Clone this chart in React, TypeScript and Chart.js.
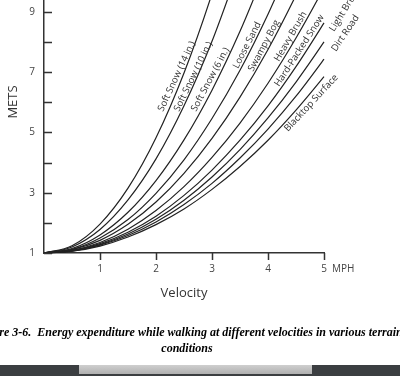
import React, { useEffect, useRef } from "react";
import { Chart, registerables } from "chart.js";

Chart.register(...registerables);

// Velocity (MPH) sample points
const velocity = [0, 0.5, 1, 1.5, 2, 2.5, 3, 3.5, 4, 4.5, 5, 5.12];

// METS per terrain (values above the top are clipped)
const softSnow14in = [1, 1.24, 1.96, 3.15, 4.82, 6.97, 9.6, 12.7];
const softSnow10in = [1, 1.2, 1.78, 2.76, 4.12, 5.88, 8.02, 10.56];
const softSnow6in = [1, 1.15, 1.6, 2.35, 3.4, 4.75, 6.4, 8.35, 10.6];
const looseSand = [1, 1.12, 1.5, 2.11, 2.98, 4.09, 5.46, 7.06, 8.92, 11.02];
const swampyBog = [1, 1.11, 1.42, 1.95, 2.69, 3.64, 4.8, 6.17, 7.75, 9.55, 11.55];
const heavyBrush = [1, 1.09, 1.35, 1.79, 2.41, 3.2, 4.17, 5.31, 6.63, 8.13, 9.8, 10.23];
const hardPackedSnow = [1, 1.08, 1.31, 1.69, 2.22, 2.91, 3.75, 4.74, 5.88, 7.18, 8.63, 8.99];
const lightBrush = [1, 1.07, 1.28, 1.63, 2.12, 2.75, 3.52, 4.43, 5.48, 6.67, 8.0, 8.34];
const dirtRoad = [1, 1.06, 1.26, 1.58, 2.03, 2.61, 3.31, 4.15, 5.11, 6.2, 7.43, 7.74];
const blacktopSurface = [1, 1.06, 1.23, 1.53, 1.94, 2.46, 3.11, 3.87, 4.74, 5.74, 6.85, 7.13];

const seriesNames = [
  "Soft Snow (14 in.)",
  "Soft Snow (10 in.)",
  "Soft Snow (6 in.)",
  "Loose Sand",
  "Swampy Bog",
  "Heavy Brush",
  "Hard-Packed Snow",
  "Light Brush",
  "Dirt Road",
  "Blacktop Surface",
];
const seriesValues = [
  softSnow14in,
  softSnow10in,
  softSnow6in,
  looseSand,
  swampyBog,
  heavyBrush,
  hardPackedSnow,
  lightBrush,
  dirtRoad,
  blacktopSurface,
];

const xTickValues = [1, 2, 3, 4, 5];
const yTickValues = [1, 2, 3, 4, 5, 6, 7, 8, 9];
const yLabelledTicks = [1, 3, 5, 7, 9];

const xTitle = "Velocity";
const yTitle = "METS";
const xUnit = "MPH";
const captionLine1 =
  "Figure 3-6.  Energy expenditure while walking at different velocities in various terrain";
const captionLine2 = "conditions";

// label placement (baseline start in px, angle in degrees)
const labelPlacement = [
  { x: 163, y: 112, a: 65 },
  { x: 179, y: 112, a: 64 },
  { x: 196, y: 112, a: 62 },
  { x: 238, y: 69, a: 63 },
  { x: 253, y: 72, a: 62 },
  { x: 279, y: 62, a: 60 },
  { x: 279, y: 87, a: 57 },
  { x: 334, y: 32, a: 58 },
  { x: 336, y: 52, a: 56 },
  { x: 288, y: 132, a: 47 },
];

const SANS = "'Open Sans', 'Noto Sans', sans-serif";

const decorPlugin = {
  id: "decor",
  afterDraw(chart: any) {
    const ctx = chart.ctx as CanvasRenderingContext2D;
    const xs = chart.scales.x;
    const ys = chart.scales.y;
    const area = chart.chartArea;
    ctx.save();
    // tick marks
    ctx.strokeStyle = "#333";
    ctx.lineWidth = 1.5;
    ctx.beginPath();
    for (const v of xTickValues) {
      const px = Math.round(xs.getPixelForValue(v)) + 0.5;
      ctx.moveTo(px, area.bottom);
      ctx.lineTo(px, area.bottom + 7);
    }
    for (const v of yTickValues) {
      const py = Math.round(ys.getPixelForValue(v)) + 0.5;
      ctx.moveTo(area.left, py);
      ctx.lineTo(area.left + 8, py);
    }
    ctx.stroke();

    // MPH unit
    ctx.fillStyle = "#444";
    ctx.font = `10px ${SANS}`;
    ctx.textBaseline = "middle";
    ctx.textAlign = "left";
    ctx.fillText(xUnit, xs.getPixelForValue(5) + 8, area.bottom + 16);

    // y title
    ctx.save();
    ctx.fillStyle = "#333";
    ctx.font = `13px ${SANS}`;
    ctx.translate(13, 102);
    ctx.rotate(-Math.PI / 2);
    ctx.textAlign = "center";
    ctx.textBaseline = "middle";
    ctx.fillText(yTitle, 0, 0);
    ctx.restore();

    // curve labels
    ctx.fillStyle = "#333";
    ctx.font = `9.5px ${SANS}`;
    ctx.textAlign = "left";
    ctx.textBaseline = "alphabetic";
    seriesNames.forEach((name, i) => {
      const p = labelPlacement[i];
      ctx.save();
      ctx.translate(p.x, p.y);
      ctx.rotate((-p.a * Math.PI) / 180);
      ctx.fillText(name, 0, 0);
      ctx.restore();
    });

    // caption
    ctx.fillStyle = "#000";
    ctx.font = `italic bold 12px 'Liberation Serif', 'Times New Roman', serif`;
    ctx.textAlign = "center";
    ctx.textBaseline = "middle";
    ctx.fillText(captionLine1, 189, 333);
    ctx.fillText(captionLine2, 187, 349);

    // bottom bar
    ctx.fillStyle = "#3b3e41";
    ctx.fillRect(0, 365, 400, 11);
    const g = ctx.createLinearGradient(0, 365, 0, 376);
    g.addColorStop(0, "#cfcfcf");
    g.addColorStop(1, "#a9a9a9");
    ctx.fillStyle = g;
    ctx.fillRect(79, 365, 233, 9);
    ctx.restore();
  },
};

export default function App() {
  const ref = useRef<HTMLCanvasElement>(null);
  useEffect(() => {
    document.body.style.margin = "0";
    const canvas = ref.current!;
    const datasets = seriesNames.map((name, i) => ({
      label: name,
      data: seriesValues[i].map((y, j) => ({ x: velocity[j], y })),
      borderColor: "#222",
      borderWidth: 1.2,
      pointRadius: 0,
      fill: false,
      cubicInterpolationMode: "monotone" as const,
      clip: false as any,
    }));
    const chart = new Chart(canvas, {
      type: "line",
      data: { datasets },
      plugins: [decorPlugin],
      options: {
        animation: false,
        responsive: false,
        events: [],
        layout: { padding: { left: 0, right: 76, top: 0, bottom: 0 } },
        plugins: { legend: { display: false }, tooltip: { enabled: false } },
        scales: {
          x: {
            type: "linear",
            min: 0,
            max: 5,
            grid: { display: false, drawTicks: false },
            border: { display: true, color: "#333", width: 1.5 },
            ticks: {
              stepSize: 1,
              padding: 10,
              color: "#444",
              font: { size: 10, family: SANS },
              maxRotation: 0,
              autoSkip: false,
              callback: (v: any) => (xTickValues.includes(Number(v)) ? String(v) : null),
            },
            title: {
              display: true,
              text: xTitle,
              color: "#333",
              font: { size: 13, family: SANS },
              padding: { top: 0, bottom: 75 },
            },
            afterFit: (s: any) => {
              s.height = 123;
              s.paddingLeft = 0;
              s.paddingRight = 0;
            },
          },
          y: {
            type: "linear",
            min: 1,
            max: 9.39,
            grid: { display: false, drawTicks: false },
            border: { display: true, color: "#333", width: 1.5 },
            afterBuildTicks: (s: any) => {
              s.ticks = yTickValues.map((v) => ({ value: v }));
            },
            ticks: {
              padding: 9,
              autoSkip: false,
              color: "#444",
              font: { size: 10, family: SANS },
              callback: (v: any) => (yLabelledTicks.includes(Number(v)) ? String(v) : null),
            },
            afterFit: (s: any) => {
              s.width = 44;
              s.paddingTop = 0;
              s.paddingBottom = 0;
            },
          },
        },
      },
    });
    return () => chart.destroy();
  }, []);
  return (
    <div style={{ position: "fixed", left: 0, top: 0, width: 400, height: 376, background: "#fff" }}>
      <canvas ref={ref} width={400} height={376} />
    </div>
  );
}
